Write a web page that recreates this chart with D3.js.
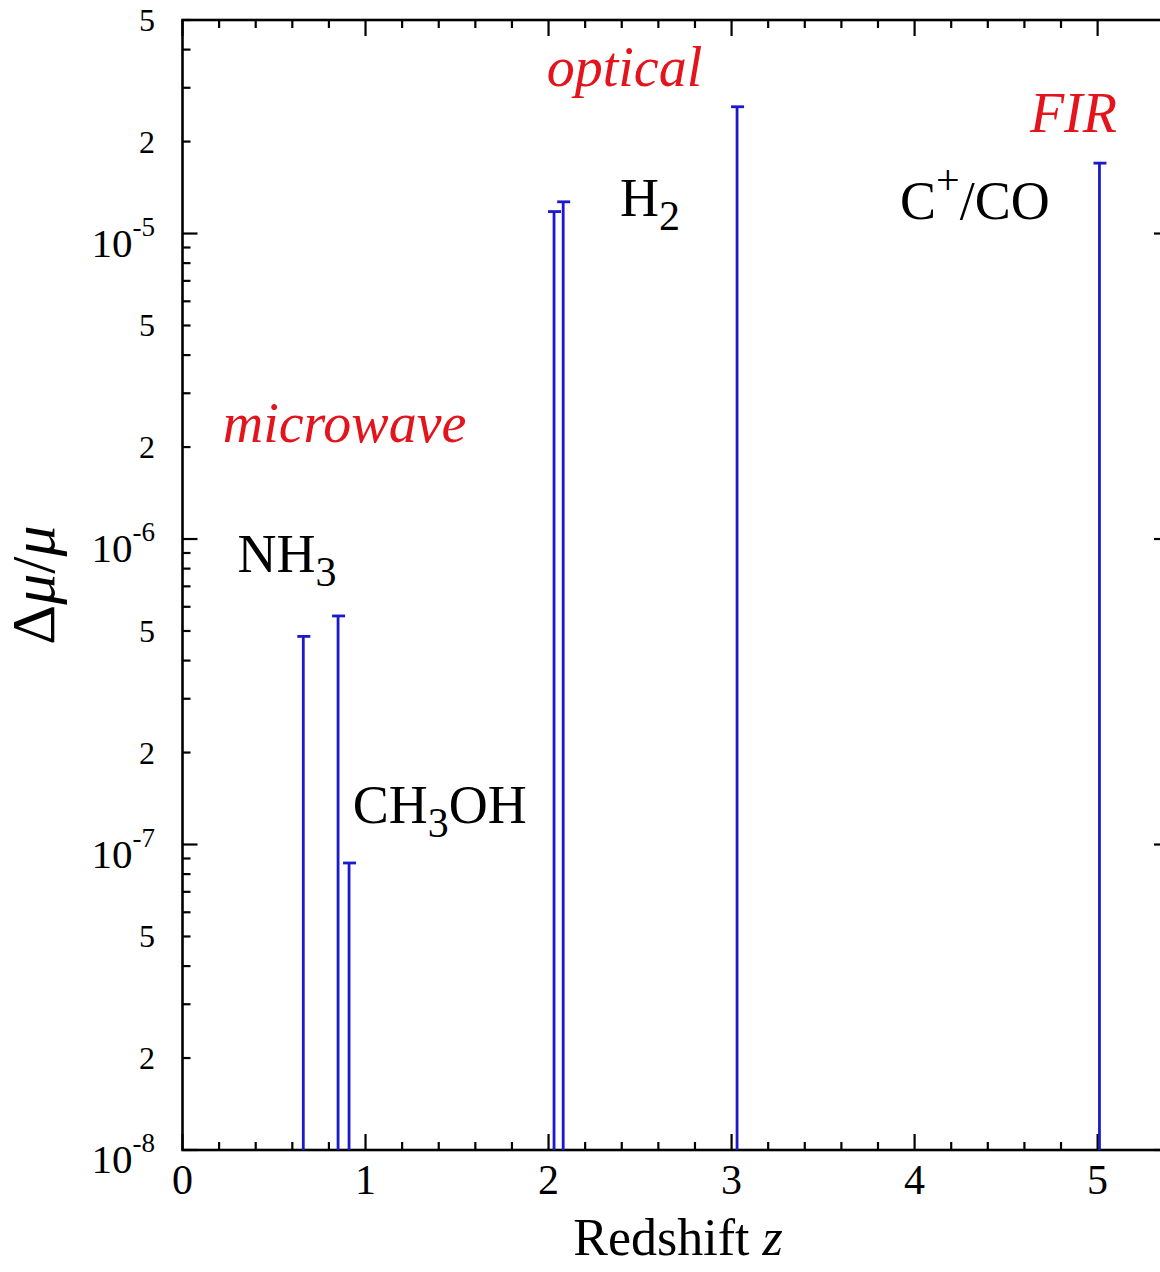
<!DOCTYPE html>
<html>
<head>
<meta charset="utf-8">
<script src="https://cdn.jsdelivr.net/npm/d3@7"></script>
<style>
  body { margin: 0; background: white; }
  text { font-family: "Liberation Serif", "Times New Roman", serif; }
</style>
</head>
<body>
<div id="chart"></div>
<script>
// redshift of each constraint and its upper limit on dmu/mu
var redshift = [0.66, 0.85, 0.91, 2.03, 2.08, 3.03, 5.01];
var dmu = [4.8e-7, 5.6e-7, 8.7e-8, 1.18e-5, 1.27e-5, 2.6e-5, 1.7e-5];

var xMajor = [0, 1, 2, 3, 4, 5];
var xMinor = d3.range(0, 5.01, 0.2);
var decades = [-8, -7, -6, -5];
var yMinorLabels = [2, 5];

// annotation labels, anchored in data coordinates (z, dmu)
var bandNames = ["microwave", "optical", "FIR"];
var bandZ = [0.22, 1.99, 4.63];
var bandV = [2.07e-6, 3.04e-5, 2.15e-5];

var molNames = [["NH", "3", ""], ["CH", "3", "OH"], ["H", "2", ""], ["C", "+", "/CO"]];
var molZ = [0.30, 0.93, 2.39, 3.92];
var molV = [7.8e-7, 1.18e-7, 1.14e-5, 1.115e-5];

var W = 1160, H = 1272;
var svg = d3.select("#chart").append("svg")
    .attr("width", W)
    .attr("height", H);

var x = d3.scaleLinear().domain([0, 5.39]).range([182.5, 1169]);
var y = d3.scaleLog().domain([1e-8, 5e-5]).range([1150, 20]);

var x0 = x.range()[0], x1 = x.range()[1];
var y0 = y.range()[0], y1 = y.range()[1];

var blue = "#1a1acb";
var red = "#e3141c";

// ticks
var yMajorVals = decades.map(function(d) { return Math.pow(10, d); });
var yMinorVals = [];
decades.forEach(function(d) {
    for (var k = 2; k <= 9; k++) {
        var v = k * Math.pow(10, d);
        if (v <= 5e-5 * 1.0001) yMinorVals.push(v);
    }
});

var tickG = svg.append("g").attr("stroke", "black").attr("stroke-width", 2.2);

xMinor.forEach(function(d) {
    var isMajor = Math.abs(d - Math.round(d)) < 1e-6;
    var len = isMajor ? 16 : 8;
    tickG.append("line").attr("x1", x(d)).attr("x2", x(d)).attr("y1", y0).attr("y2", y0 - len);
    tickG.append("line").attr("x1", x(d)).attr("x2", x(d)).attr("y1", y1).attr("y2", y1 + len);
});
yMajorVals.concat(yMinorVals).forEach(function(v) {
    var isMajor = yMajorVals.indexOf(v) >= 0;
    var len = isMajor ? 15 : 8;
    tickG.append("line").attr("x1", x0).attr("x2", x0 + len).attr("y1", y(v)).attr("y2", y(v));
    tickG.append("line").attr("x1", x1).attr("x2", x1 - len).attr("y1", y(v)).attr("y2", y(v));
});

// frame
svg.append("rect")
    .attr("x", x0).attr("y", y1)
    .attr("width", x1 - x0).attr("height", y0 - y1)
    .attr("fill", "none")
    .attr("stroke", "black")
    .attr("stroke-width", 2.6);

// x tick labels
svg.append("g").selectAll("text")
    .data(xMajor)
    .enter().append("text")
    .attr("x", function(d) { return x(d); })
    .attr("y", 1194)
    .attr("text-anchor", "middle")
    .attr("font-size", 42)
    .text(function(d) { return d; });

// y tick labels: decades as 10^n
var decLab = svg.append("g").selectAll("text")
    .data(decades)
    .enter().append("text")
    .attr("x", 155)
    .attr("y", function(d) { return y(Math.pow(10, d)) + 23; })
    .attr("text-anchor", "end")
    .attr("font-size", 41);
decLab.append("tspan").text("10");
decLab.append("tspan")
    .attr("font-size", 27)
    .attr("dy", -21)
    .text(function(d) { return "-" + Math.abs(d); });

// y minor labels 2 and 5 in each decade
var minorLab = [];
decades.forEach(function(d) {
    yMinorLabels.forEach(function(k) {
        var v = k * Math.pow(10, d);
        if (v <= 5e-5 * 1.0001) minorLab.push({k: k, v: v});
    });
});
svg.append("g").selectAll("text")
    .data(minorLab)
    .enter().append("text")
    .attr("x", 155)
    .attr("y", function(d) { return y(d.v) + 11; })
    .attr("text-anchor", "end")
    .attr("font-size", 32)
    .text(function(d) { return d.k; });

// axis titles
var xt = svg.append("text")
    .attr("x", 678)
    .attr("y", 1255)
    .attr("text-anchor", "middle")
    .attr("font-size", 52);
xt.append("tspan").text("Redshift ");
xt.append("tspan").attr("font-style", "italic").text("z");

var yt = svg.append("text")
    .attr("transform", "translate(54,585) rotate(-90)")
    .attr("text-anchor", "middle")
    .attr("font-size", 62);
yt.append("tspan").text("\u0394");
yt.append("tspan").attr("font-style", "italic").text("\u03bc");
yt.append("tspan").text("/");
yt.append("tspan").attr("font-style", "italic").text("\u03bc");

// bars
var bars = svg.append("g").attr("stroke", blue).attr("stroke-width", 2.8);
bars.selectAll("line.stem")
    .data(redshift)
    .enter().append("line")
    .attr("class", "stem")
    .attr("x1", function(d) { return x(d); })
    .attr("x2", function(d) { return x(d); })
    .attr("y1", y0)
    .attr("y2", function(d, i) { return y(dmu[i]); });
bars.selectAll("line.cap")
    .data(redshift)
    .enter().append("line")
    .attr("class", "cap")
    .attr("x1", function(d) { return x(d) - 6; })
    .attr("x2", function(d) { return x(d) + 7; })
    .attr("y1", function(d, i) { return y(dmu[i]); })
    .attr("y2", function(d, i) { return y(dmu[i]); });

// band labels
svg.append("g").selectAll("text")
    .data(bandNames)
    .enter().append("text")
    .attr("x", function(d, i) { return x(bandZ[i]); })
    .attr("y", function(d, i) { return y(bandV[i]); })
    .attr("font-size", 56)
    .attr("font-style", "italic")
    .attr("fill", red)
    .text(function(d) { return d; });

// molecule labels
var mol = svg.append("g").selectAll("text")
    .data(molNames)
    .enter().append("text")
    .attr("x", function(d, i) { return x(molZ[i]); })
    .attr("y", function(d, i) { return y(molV[i]); })
    .attr("font-size", 54)
    .attr("fill", "black");
mol.append("tspan").text(function(d) { return d[0]; });
mol.append("tspan")
    .attr("font-size", 42)
    .attr("dy", function(d) { return d[1] === "+" ? -25 : 14; })
    .text(function(d) { return d[1]; });
mol.append("tspan")
    .attr("dy", function(d) { return d[1] === "+" ? 25 : -14; })
    .text(function(d) { return d[2]; });
</script>
</body>
</html>
